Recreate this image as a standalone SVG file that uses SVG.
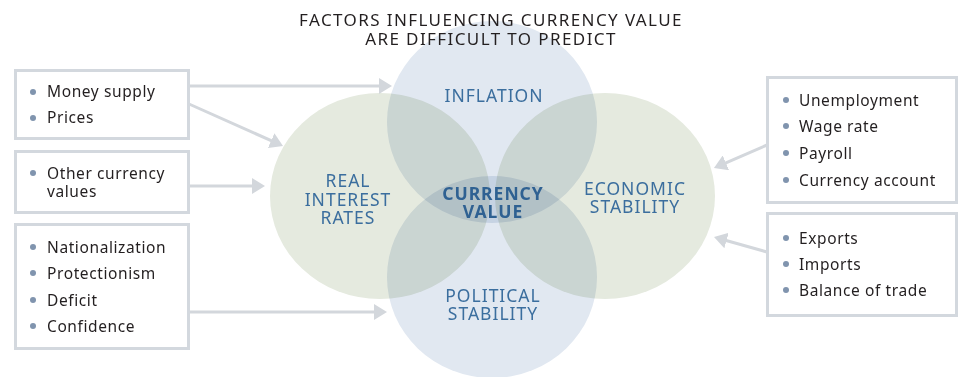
<svg xmlns="http://www.w3.org/2000/svg" width="966" height="377" viewBox="0 0 966 377">
<style>
.bg{fill:#ffffff}
.blue{fill:#e1e8f1;mix-blend-mode:multiply}
.green{fill:#e5eadf;mix-blend-mode:multiply}
.box{fill:#ffffff;stroke:#d3d8de;stroke-width:3}
.item{font-family:"Noto Sans","Open Sans",sans-serif;font-size:15.5px;letter-spacing:0.6px;fill:#231f20}
.dot{fill:#8094ae}
.lbl{font-family:"Noto Sans","Open Sans",sans-serif;font-size:17.5px;letter-spacing:1px;fill:#3b6e9e;text-anchor:middle}
.ctr{font-weight:bold;fill:#2f6192}
.title{font-family:"Noto Sans","Open Sans",sans-serif;font-size:17px;letter-spacing:1.4px;fill:#231f20;text-anchor:middle}
.arr{stroke:#d3d7dc;stroke-width:3;fill:none;marker-end:url(#ah)}
</style>
<defs>
<marker id="ah" markerUnits="userSpaceOnUse" markerWidth="14" markerHeight="16" refX="5" refY="8" orient="auto">
<path d="M0,0 L13,8 L0,16 z" fill="#d3d7dc"/>
</marker>
</defs>
<rect class="bg" x="0" y="0" width="966" height="377"/>
<g id="circles" style="isolation:isolate">
<g id="inflation"><ellipse class="blue" cx="492" cy="122" rx="105" ry="101"/></g>
<g id="political-stability"><ellipse class="blue" cx="492" cy="277" rx="105" ry="101"/></g>
<g id="real-interest-rates"><ellipse class="green" cx="380" cy="196" rx="110" ry="103"/></g>
<g id="economic-stability"><ellipse class="green" cx="605" cy="196" rx="110" ry="103"/></g>
</g>
<g id="title">
<text class="title" x="491" y="26">FACTORS INFLUENCING CURRENCY VALUE</text>
<text class="title" x="491" y="45">ARE DIFFICULT TO PREDICT</text>
</g>
<g id="circle-labels">
<text class="lbl" x="494" y="102">INFLATION</text>
<text class="lbl" x="348" y="187">REAL</text>
<text class="lbl" x="348" y="206">INTEREST</text>
<text class="lbl" x="348" y="224">RATES</text>
<text class="lbl ctr" x="493" y="200">CURRENCY</text>
<text class="lbl ctr" x="493" y="218">VALUE</text>
<text class="lbl" x="635" y="195">ECONOMIC</text>
<text class="lbl" x="635" y="213">STABILITY</text>
<text class="lbl" x="493" y="302">POLITICAL</text>
<text class="lbl" x="493" y="320">STABILITY</text>
</g>
<g id="connectors">
<line class="arr" x1="189" y1="86" x2="384" y2="86"/>
<line class="arr" x1="189" y1="104" x2="275.7" y2="142.7"/>
<line class="arr" x1="189" y1="186" x2="257" y2="186"/>
<line class="arr" x1="189" y1="312" x2="379" y2="312"/>
<line class="arr" x1="767" y1="145" x2="721.3" y2="164.8"/>
<line class="arr" x1="767" y1="252" x2="721.7" y2="239.2"/>
</g>
<g id="box-money">
<rect class="box" x="15.5" y="70.5" width="173" height="68"/>
<circle class="dot" cx="33" cy="92" r="3"/><text class="item" x="47" y="97">Money supply</text>
<circle class="dot" cx="33" cy="118" r="3"/><text class="item" x="47" y="123">Prices</text>
</g>
<g id="box-other">
<rect class="box" x="15.5" y="151.5" width="173" height="61"/>
<circle class="dot" cx="33" cy="173" r="3"/><text class="item" x="47" y="179">Other currency</text>
<text class="item" x="47" y="197">values</text>
</g>
<g id="box-political">
<rect class="box" x="15.5" y="224.5" width="173" height="124"/>
<circle class="dot" cx="33" cy="247" r="3"/><text class="item" x="47" y="253">Nationalization</text>
<circle class="dot" cx="33" cy="273" r="3"/><text class="item" x="47" y="279">Protectionism</text>
<circle class="dot" cx="33" cy="300" r="3"/><text class="item" x="47" y="306">Deficit</text>
<circle class="dot" cx="33" cy="326" r="3"/><text class="item" x="47" y="332">Confidence</text>
</g>
<g id="box-employment">
<rect class="box" x="767.5" y="77.5" width="189" height="125"/>
<circle class="dot" cx="786" cy="100" r="3"/><text class="item" x="799" y="106">Unemployment</text>
<circle class="dot" cx="786" cy="126" r="3"/><text class="item" x="799" y="132">Wage rate</text>
<circle class="dot" cx="786" cy="153" r="3"/><text class="item" x="799" y="159">Payroll</text>
<circle class="dot" cx="786" cy="180" r="3"/><text class="item" x="799" y="186">Currency account</text>
</g>
<g id="box-trade">
<rect class="box" x="767.5" y="213.5" width="189" height="102"/>
<circle class="dot" cx="786" cy="238" r="3"/><text class="item" x="799" y="244">Exports</text>
<circle class="dot" cx="786" cy="264" r="3"/><text class="item" x="799" y="270">Imports</text>
<circle class="dot" cx="786" cy="290" r="3"/><text class="item" x="799" y="296">Balance of trade</text>
</g>
</svg>
